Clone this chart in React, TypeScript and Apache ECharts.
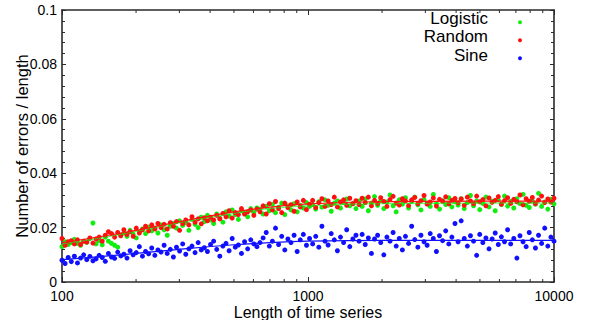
import React, { useEffect, useRef } from "react";
import * as echarts from "echarts";

// Error rates (errors / length), in order of increasing length
// (lengths are spaced evenly on a log scale from 100 to 10000)
const logistic: number[] = [
  0.0130, 0.0148, 0.0138, 0.0145, 0.0157, 0.0142, 0.0135, 0.0150, 0.0146, 0.0160, 0.0217, 0.0140, 0.0152, 0.0137, 0.0165, 0.0150,
  0.0142, 0.0135, 0.0128, 0.0172, 0.0180, 0.0168, 0.0190, 0.0176, 0.0162, 0.0185, 0.0195, 0.0178, 0.0202, 0.0188, 0.0198, 0.0180,
  0.0210, 0.0192, 0.0172, 0.0205, 0.0215, 0.0198, 0.0225, 0.0208, 0.0218, 0.0190, 0.0230, 0.0212, 0.0200, 0.0238, 0.0222, 0.0245,
  0.0228, 0.0215, 0.0250, 0.0235, 0.0220, 0.0258, 0.0242, 0.0265, 0.0248, 0.0230, 0.0262, 0.0252, 0.0240, 0.0270, 0.0255, 0.0272,
  0.0268, 0.0250, 0.0278, 0.0262, 0.0285, 0.0255, 0.0275, 0.0290, 0.0248, 0.0280, 0.0265, 0.0288, 0.0258, 0.0282, 0.0272, 0.0292,
  0.0278, 0.0285, 0.0268, 0.0295, 0.0275, 0.0302, 0.0282, 0.0260, 0.0290, 0.0298, 0.0272, 0.0292, 0.0305, 0.0280, 0.0288, 0.0270,
  0.0298, 0.0278, 0.0305, 0.0262, 0.0290, 0.0314, 0.0282, 0.0300, 0.0270, 0.0294, 0.0320, 0.0280, 0.0258, 0.0302, 0.0286, 0.0310,
  0.0272, 0.0296, 0.0312, 0.0284, 0.0265, 0.0304, 0.0290, 0.0278, 0.0322, 0.0288, 0.0268, 0.0299, 0.0285, 0.0310, 0.0276, 0.0295,
  0.0283, 0.0306, 0.0270, 0.0292, 0.0318, 0.0280, 0.0298, 0.0266, 0.0289, 0.0312, 0.0276, 0.0297, 0.0262, 0.0302, 0.0285, 0.0316,
  0.0279, 0.0296, 0.0272, 0.0306, 0.0288, 0.0322, 0.0282, 0.0274, 0.0298, 0.0286, 0.0326, 0.0278, 0.0294, 0.0268, 0.0304, 0.0287,
];

const random: number[] = [
  0.0160, 0.0135, 0.0148, 0.0152, 0.0140, 0.0155, 0.0138, 0.0150, 0.0147, 0.0162, 0.0143, 0.0158, 0.0165, 0.0150, 0.0172, 0.0185,
  0.0178, 0.0165, 0.0182, 0.0170, 0.0192, 0.0175, 0.0185, 0.0168, 0.0198, 0.0180, 0.0192, 0.0205, 0.0188, 0.0210, 0.0195, 0.0215,
  0.0200, 0.0212, 0.0195, 0.0218, 0.0205, 0.0222, 0.0190, 0.0215, 0.0228, 0.0210, 0.0240, 0.0220, 0.0232, 0.0214, 0.0236, 0.0225,
  0.0238, 0.0228, 0.0245, 0.0232, 0.0252, 0.0240, 0.0262, 0.0235, 0.0255, 0.0248, 0.0270, 0.0250, 0.0258, 0.0265, 0.0245, 0.0268,
  0.0258, 0.0280, 0.0250, 0.0288, 0.0265, 0.0296, 0.0270, 0.0255, 0.0290, 0.0274, 0.0284, 0.0260, 0.0294, 0.0276, 0.0300, 0.0266,
  0.0286, 0.0300, 0.0274, 0.0292, 0.0306, 0.0278, 0.0298, 0.0285, 0.0312, 0.0276, 0.0294, 0.0302, 0.0282, 0.0308, 0.0288, 0.0299,
  0.0285, 0.0308, 0.0292, 0.0312, 0.0280, 0.0300, 0.0289, 0.0310, 0.0296, 0.0278, 0.0303, 0.0315, 0.0290, 0.0283, 0.0306, 0.0298,
  0.0281, 0.0302, 0.0311, 0.0288, 0.0299, 0.0318, 0.0286, 0.0294, 0.0309, 0.0279, 0.0304, 0.0297, 0.0313, 0.0287, 0.0300, 0.0307,
  0.0291, 0.0305, 0.0282, 0.0312, 0.0298, 0.0288, 0.0316, 0.0295, 0.0303, 0.0280, 0.0309, 0.0293, 0.0300, 0.0314, 0.0286, 0.0299,
  0.0310, 0.0289, 0.0304, 0.0295, 0.0320, 0.0284, 0.0306, 0.0297, 0.0311, 0.0288, 0.0301, 0.0316, 0.0292, 0.0305, 0.0294, 0.0308,
];

const sine: number[] = [
  0.0080, 0.0068, 0.0090, 0.0075, 0.0095, 0.0070, 0.0088, 0.0100, 0.0082, 0.0094, 0.0078, 0.0085, 0.0098, 0.0090, 0.0076, 0.0105,
  0.0092, 0.0087, 0.0110, 0.0096, 0.0102, 0.0088, 0.0115, 0.0100, 0.0108, 0.0130, 0.0095, 0.0112, 0.0104, 0.0125, 0.0098, 0.0118,
  0.0110, 0.0135, 0.0105, 0.0120, 0.0092, 0.0128, 0.0114, 0.0140, 0.0102, 0.0122, 0.0132, 0.0108, 0.0145, 0.0118, 0.0126, 0.0112,
  0.0138, 0.0150, 0.0120, 0.0095, 0.0132, 0.0142, 0.0115, 0.0160, 0.0128, 0.0136, 0.0105, 0.0148, 0.0122, 0.0155, 0.0140, 0.0130,
  0.0145, 0.0162, 0.0182, 0.0132, 0.0150, 0.0198, 0.0138, 0.0168, 0.0118, 0.0158, 0.0145, 0.0172, 0.0112, 0.0155, 0.0175, 0.0135,
  0.0160, 0.0140, 0.0168, 0.0128, 0.0205, 0.0150, 0.0136, 0.0178, 0.0155, 0.0115, 0.0165, 0.0145, 0.0192, 0.0130, 0.0158, 0.0172,
  0.0150, 0.0175, 0.0138, 0.0162, 0.0105, 0.0158, 0.0172, 0.0145, 0.0100, 0.0165, 0.0150, 0.0182, 0.0132, 0.0160, 0.0118, 0.0168,
  0.0142, 0.0205, 0.0156, 0.0128, 0.0172, 0.0148, 0.0135, 0.0178, 0.0160, 0.0112, 0.0170, 0.0152, 0.0188, 0.0140, 0.0165, 0.0215,
  0.0148, 0.0225, 0.0160, 0.0132, 0.0170, 0.0150, 0.0098, 0.0175, 0.0145, 0.0162, 0.0122, 0.0158, 0.0180, 0.0138, 0.0166, 0.0148,
  0.0192, 0.0140, 0.0160, 0.0088, 0.0170, 0.0148, 0.0130, 0.0182, 0.0155, 0.0125, 0.0172, 0.0142, 0.0198, 0.0132, 0.0165, 0.0150,
];

// Fitted trend curves
const fitLengths: number[] = [100, 150, 200, 300, 500, 700, 1000, 2000, 5000, 10000];
const logisticFit: number[] = [0.0140, 0.0165, 0.0186, 0.0218, 0.0252, 0.0270, 0.0280, 0.0288, 0.0290, 0.0290];
const randomFit: number[] = [0.0145, 0.0170, 0.0190, 0.0222, 0.0258, 0.0275, 0.0287, 0.0295, 0.0297, 0.0297];
const sineFit: number[] = [0.0082, 0.0095, 0.0105, 0.0120, 0.0137, 0.0145, 0.0150, 0.0153, 0.0153, 0.0153];

const minorMultipliers: number[] = [2, 3, 4, 5, 6, 7, 8, 9];
const decades: number[] = [100, 1000];

const seriesNames = ["Logistic", "Random", "Sine"];
const colors = ["#10ee10", "#ff1010", "#1010ff"];

const FONT = "Liberation Sans, Arial, sans-serif";

function withLengths(values: number[]): number[][] {
  const n = values.length;
  return values.map((v, i) => [100 * Math.pow(100, i / (n - 1)), v]);
}

export default function App() {
  const ref = useRef<HTMLDivElement>(null);

  useEffect(() => {
    if (!ref.current) return;
    const chart = echarts.init(ref.current, undefined, { renderer: "svg" });

    const minorTicks: number[][] = [];
    decades.forEach((d) => minorMultipliers.forEach((m) => minorTicks.push([d * m, 0])));

    const axisLine = { show: true, onZero: false, lineStyle: { color: "#2a2a2a", width: 1.6 } };
    const tickStyle = { color: "#2a2a2a", width: 1 };

    const xBase = {
      type: "log",
      logBase: 10,
      min: 100,
      max: 10000,
      axisLine,
      axisTick: { show: true, inside: true, length: 5, lineStyle: tickStyle },
      minorTick: { show: false },
      splitLine: { show: false },
    };
    const yBase = {
      type: "value",
      min: 0,
      max: 0.1,
      interval: 0.02,
      axisLine,
      axisTick: { show: true, inside: true, length: 4, lineStyle: tickStyle },
      minorTick: { show: true, splitNumber: 5, length: 3, lineStyle: tickStyle },
      splitLine: { show: false },
    };

    const scatters = [logistic, random, sine].map((vals, k) => ({
      name: seriesNames[k],
      type: "scatter",
      data: withLengths(vals),
      symbol: "circle",
      symbolSize: 5,
      itemStyle: { color: colors[k], opacity: 1 },
      z: 2,
    }));

    const fits = [logisticFit, randomFit, sineFit].map((vals, k) => ({
      name: seriesNames[k] + " fit",
      type: "line",
      data: fitLengths.map((x, i) => [x, vals[i]]),
      smooth: 0.4,
      showSymbol: false,
      lineStyle: { color: colors[k], width: 1.2, opacity: k === 0 ? 0.6 : 1 },
      z: 3,
    }));

    chart.setOption({
      animation: false,
      backgroundColor: "#fff",
      textStyle: { fontFamily: FONT },
      grid: { left: 62, right: 36, top: 10, bottom: 38, containLabel: false, outerBoundsMode: "none" },
      xAxis: [
        {
          ...xBase,
          position: "bottom",
          name: "Length of time series",
          nameLocation: "middle",
          nameMoveOverlap: false,
          nameGap: 22,
          nameTextStyle: { fontSize: 16, color: "#000", fontFamily: FONT },
          axisLabel: {
            show: true,
            fontSize: 14,
            color: "#000",
            margin: 7,
            fontFamily: FONT,
            formatter: (v: number) => String(Math.round(v)),
          },
        },
        { ...xBase, position: "top", axisLabel: { show: false } },
      ],
      yAxis: [
        {
          ...yBase,
          position: "left",
          name: "Number of errors / length",
          nameLocation: "middle",
          nameMoveOverlap: false,
          nameGap: 32,
          nameTextStyle: { fontSize: 16.5, color: "#000", fontFamily: FONT },
          axisLabel: {
            show: true,
            fontSize: 14,
            color: "#000",
            margin: 5,
            fontFamily: FONT,
            formatter: (v: number) => (v === 0 ? "0" : String(parseFloat(v.toFixed(2)))),
          },
        },
        { ...yBase, position: "right", axisLabel: { show: false } },
      ],
      series: [
        ...scatters,
        ...fits,
        {
          type: "custom",
          name: "minor ticks",
          data: minorTicks,
          encode: { x: 0, y: 1 },
          clip: false,
          silent: true,
          z: 5,
          renderItem: (params: any, api: any) => {
            const cs = params.coordSys;
            const x = api.coord([api.value(0), 0])[0];
            const yb = cs.y + cs.height;
            const yt = cs.y;
            const style = { stroke: "#2a2a2a", lineWidth: 1 };
            return {
              type: "group",
              children: [
                { type: "line", shape: { x1: x, y1: yb, x2: x, y2: yb - 3 }, style },
                { type: "line", shape: { x1: x, y1: yt, x2: x, y2: yt + 3 }, style },
              ],
            };
          },
        },
      ],
      graphic: [
        ...seriesNames.map((n, k) => ({
          type: "text",
          right: 590 - 488,
          top: 10 + k * 18.3,
          style: { text: n, font: `17px ${FONT}`, fill: "#000", textAlign: "right" },
          z: 10,
        })),
        ...seriesNames.map((n, k) => ({
          type: "circle",
          shape: { cx: 520, cy: 22.3 + k * 18, r: 2 },
          style: { fill: colors[k] },
          z: 10,
        })),
      ],
    });

    return () => chart.dispose();
  }, []);

  return (
    <div
      ref={ref}
      style={{ position: "absolute", left: 0, top: 0, width: 590, height: 320 }}
    />
  );
}
